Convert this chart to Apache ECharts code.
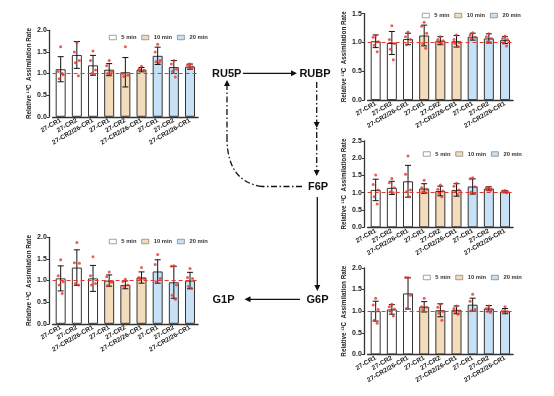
<!DOCTYPE html>
<html>
<head>
<meta charset="utf-8">
<script src="https://cdn.jsdelivr.net/npm/echarts@6/dist/echarts.min.js"></script>
<style>
  html, body { margin: 0; padding: 0; background: #fff; }
  #main { width: 554px; height: 396px; }
</style>
</head>
<body>
<div id="main"></div>
<script>
// categories and groups
const categories = ['27-CR1', '27-CR2', '27-CR2/26-CR1', '27-CR1', '27-CR2', '27-CR2/26-CR1', '27-CR1', '27-CR2', '27-CR2/26-CR1'];
const groups = ['5 min', '10 min', '20 min'];
const groupOf = [0, 0, 0, 1, 1, 1, 2, 2, 2];

// RU5P
const ru5pMean = [1.10, 1.43, 1.19, 1.09, 1.03, 1.09, 1.41, 1.15, 1.16];
const ru5pSd = [0.29, 0.31, 0.23, 0.14, 0.34, 0.05, 0.20, 0.15, 0.06];
const ru5pPoints = [
  [1.62, 1.05, 0.97, 0.88, 1.00], [1.72, 1.50, 1.30, 1.25, 0.95], [1.52, 1.30, 1.08, 1.00, 0.98],
  [1.30, 1.18, 1.05, 1.00, 0.97], [1.62, 1.00, 0.96, 0.93], [1.17, 1.10, 1.07, 1.08],
  [1.68, 1.50, 1.30, 1.27, 1.25], [1.30, 1.22, 1.10, 1.05, 0.92], [1.22, 1.20, 1.16, 1.14, 1.12]
];

// RUBP
const rubpMean = [1.02, 0.99, 1.06, 1.12, 1.03, 1.02, 1.10, 1.07, 1.04];
const rubpSd = [0.11, 0.20, 0.10, 0.18, 0.07, 0.10, 0.06, 0.08, 0.06];
const rubpPoints = [
  [1.12, 1.09, 1.01, 0.95, 0.84], [1.29, 1.05, 0.98, 0.88, 0.70], [1.18, 1.10, 1.05, 0.96],
  [1.35, 1.28, 1.16, 0.98, 0.90], [1.10, 1.05, 1.03, 1.00, 0.98], [1.13, 1.05, 1.00, 0.98, 0.93],
  [1.17, 1.13, 1.09, 1.07], [1.15, 1.10, 1.07, 1.01, 1.00], [1.11, 1.07, 1.05, 0.99, 0.94]
];

// F6P
const f6pMean = [1.08, 1.14, 1.33, 1.12, 1.05, 1.08, 1.18, 1.12, 1.03];
const f6pSd = [0.31, 0.19, 0.46, 0.14, 0.14, 0.18, 0.22, 0.05, 0.03];
const f6pPoints = [
  [1.51, 1.24, 1.08, 0.88, 0.67], [1.41, 1.29, 1.14, 1.03, 1.00], [2.06, 1.53, 1.08, 1.03, 0.88],
  [1.36, 1.14, 1.10, 1.03, 1.00], [1.22, 1.10, 1.05, 0.98, 0.88], [1.27, 1.19, 1.08, 1.03, 0.95],
  [1.43, 1.40, 1.17, 1.01, 0.98], [1.16, 1.14, 1.10, 1.08, 1.06], [1.06, 1.05, 1.03, 1.02, 1.00]
];

// G6P
const g6pMean = [1.00, 1.04, 1.41, 1.10, 1.02, 1.03, 1.15, 1.06, 1.00];
const g6pSd = [0.23, 0.11, 0.36, 0.12, 0.15, 0.09, 0.15, 0.07, 0.06];
const g6pPoints = [
  [1.30, 1.14, 1.04, 0.79, 0.72], [1.16, 1.10, 1.05, 1.00, 0.89], [1.78, 1.78, 1.37, 1.06],
  [1.30, 1.10, 1.09, 1.03], [1.16, 1.09, 1.00, 0.95, 0.79], [1.12, 1.06, 1.00, 0.99, 0.93],
  [1.39, 1.23, 1.04, 1.01], [1.12, 1.06, 1.03, 1.00, 0.97], [1.10, 1.01, 0.99, 0.97]
];

// G1P
const g1pMean = [1.05, 1.30, 1.05, 1.00, 0.90, 1.07, 1.21, 0.96, 1.00];
const g1pSd = [0.29, 0.41, 0.30, 0.13, 0.09, 0.13, 0.27, 0.37, 0.19];
const g1pPoints = [
  [1.48, 1.11, 0.97, 0.90, 0.70], [1.88, 1.41, 1.40, 0.93, 0.90], [1.55, 1.11, 0.93, 0.90],
  [1.20, 1.09, 0.96, 0.88], [1.03, 0.98, 0.90, 0.86], [1.30, 1.07, 1.05, 1.03],
  [1.60, 1.37, 1.05, 0.97], [1.34, 1.33, 0.90, 0.66, 0.57], [1.28, 1.07, 1.05, 0.86, 0.82]
];

const yTicks = [0, 0.5, 1.0, 1.5, 2.0, 2.5];

const fills = ['#ffffff', '#f3dcbc', '#c7e1f6'];
const jitter = [0, -2.5, 2.5, -1.5, 1.5];
const font = 'Arial, "Liberation Sans", sans-serif';

// panel layout
const panels = [
  { mean: ru5pMean, sd: ru5pSd, pts: ru5pPoints, max: 2.0, left: 52.6, top: 30.3, legend: [109, 34.5] },
  { mean: rubpMean, sd: rubpSd, pts: rubpPoints, max: 1.5, left: 367.6, top: 13.6, legend: [422, 12.5] },
  { mean: f6pMean, sd: f6pSd, pts: f6pPoints, max: 2.5, left: 367.6, top: 140.8, legend: [423, 151] },
  { mean: g6pMean, sd: g6pSd, pts: g6pPoints, max: 2.0, left: 367.6, top: 267.9, legend: [423, 274.5] },
  { mean: g1pMean, sd: g1pSd, pts: g1pPoints, max: 2.0, left: 52.6, top: 237.3, legend: [109, 238.5] }
];

const grid = [], xAxis = [], yAxis = [], series = [], legend = [];

function errorRender(params, api) {
  const x = api.value(0);
  const top = api.coord([x, api.value(2)]);
  const bot = api.coord([x, api.value(1)]);
  const w = 3;
  const st = { stroke: '#111', lineWidth: 1 };
  return {
    type: 'group',
    children: [
      { type: 'line', shape: { x1: top[0], y1: top[1], x2: bot[0], y2: bot[1] }, style: st },
      { type: 'line', shape: { x1: top[0] - w, y1: top[1], x2: top[0] + w, y2: top[1] }, style: st },
      { type: 'line', shape: { x1: bot[0] - w, y1: bot[1], x2: bot[0] + w, y2: bot[1] }, style: st }
    ]
  };
}

panels.forEach(function (p, k) {
  grid.push({ left: p.left, top: p.top, width: 145.5, height: 86.5 });
  xAxis.push({
    type: 'category', gridIndex: k, data: categories,
    axisLine: { lineStyle: { color: '#333', width: 1.3 } },
    axisTick: { show: false },
    axisLabel: { interval: 0, rotate: 30, margin: 3, fontSize: 6.5, fontWeight: 'bold', color: '#222', fontFamily: font }
  });
  yAxis.push({
    type: 'value', gridIndex: k, min: 0, max: p.max, interval: 0.5, offset: 3.3,
    name: 'Relative ¹³C  Assimilation Rate', nameLocation: 'middle', nameGap: 17,
    nameTextStyle: { fontSize: 6.3, fontWeight: 'bold', color: '#222', fontFamily: font },
    splitLine: { show: false },
    axisLine: { show: true, lineStyle: { color: '#333', width: 1.3 } },
    axisTick: { show: true, length: 2.5, lineStyle: { color: '#333', width: 1 } },
    axisLabel: {
      margin: 2.5, fontSize: 7, fontWeight: 'bold', color: '#222', fontFamily: font,
      formatter: function (v) { return yTicks.indexOf(v) >= 0 ? v.toFixed(1) : ''; }
    }
  });

  groups.forEach(function (g, gi) {
    const s = {
      name: g, type: 'bar', xAxisIndex: k, yAxisIndex: k, barWidth: 10, barGap: '-100%',
      itemStyle: { color: fills[gi], borderColor: '#333', borderWidth: 1 },
      data: p.mean.map(function (v, i) { return groupOf[i] === gi ? v : '-'; }),
      z: 2
    };
    if (gi === 0) {
      s.markLine = {
        silent: true, symbol: 'none', label: { show: false },
        lineStyle: { color: '#e2392f', type: [4, 3], width: 1 },
        data: [{ yAxis: 1 }]
      };
    }
    series.push(s);
  });

  series.push({
    type: 'custom', xAxisIndex: k, yAxisIndex: k, renderItem: errorRender, z: 4,
    data: p.mean.map(function (v, i) { return [i, v - p.sd[i], v + p.sd[i]]; })
  });

  const scatter = [];
  p.pts.forEach(function (arr, i) {
    arr.forEach(function (v, j) {
      scatter.push({ value: [i, v], symbolOffset: [jitter[j % jitter.length], 0] });
    });
  });
  series.push({
    type: 'scatter', xAxisIndex: k, yAxisIndex: k, symbolSize: 3, z: 5,
    itemStyle: { color: '#e8332a' }, data: scatter
  });

  legend.push({
    data: groups, left: p.legend[0], top: p.legend[1], orient: 'horizontal',
    itemWidth: 7, itemHeight: 4.5, itemGap: 5, padding: 0, icon: 'rect',
    itemStyle: { borderWidth: 0.6, borderColor: '#666' },
    textStyle: { fontSize: 5.8, fontWeight: 'bold', color: '#333', fontFamily: font },
    selectedMode: false
  });
});

// pathway diagram
const lab = { fontSize: 11, fontWeight: 'bold', fill: '#111', fontFamily: font, align: 'center', verticalAlign: 'middle' };
function txt(s, x, y) { return { type: 'text', x: x, y: y, style: Object.assign({ text: s }, lab) }; }
const solid = { stroke: '#111', lineWidth: 1.3 };
const dashDot = { stroke: '#111', lineWidth: 1.3, lineDash: [6, 2.5, 1.5, 2.5], fill: null };
function head(x, y, dir) {
  const L = 6, W = 3;
  let pts;
  if (dir === 'right') pts = [[x, y], [x - L, y - W], [x - L, y + W]];
  if (dir === 'left') pts = [[x, y], [x + L, y - W], [x + L, y + W]];
  if (dir === 'down') pts = [[x, y], [x - W, y - L], [x + W, y - L]];
  if (dir === 'up') pts = [[x, y], [x - W, y + L], [x + W, y + L]];
  return { type: 'polygon', shape: { points: pts }, style: { fill: '#111' } };
}

const graphic = [
  txt('RU5P', 226.7, 73.5),
  txt('RUBP', 315, 73.5),
  txt('F6P', 318, 186.5),
  txt('G6P', 317.5, 299.5),
  txt('G1P', 223.5, 299.5),
  { type: 'line', shape: { x1: 243, y1: 73.3, x2: 292, y2: 73.3 }, style: solid },
  head(297, 73.3, 'right'),
  { type: 'line', shape: { x1: 316.7, y1: 82, x2: 316.7, y2: 171 }, style: dashDot },
  head(316.7, 128, 'down'),
  head(316.7, 176, 'down'),
  { type: 'line', shape: { x1: 302, y1: 186.5, x2: 262, y2: 186.5 }, style: dashDot },
  { type: 'bezierCurve', shape: { x1: 262, y1: 186.5, x2: 227, y2: 140, cpx1: 228, cpy1: 182 }, style: dashDot },
  { type: 'line', shape: { x1: 227, y1: 140, x2: 227, y2: 86 }, style: dashDot },
  head(227, 80, 'up'),
  { type: 'line', shape: { x1: 317.3, y1: 197, x2: 317.3, y2: 285 }, style: solid },
  head(317.3, 291, 'down'),
  { type: 'line', shape: { x1: 300, y1: 299.3, x2: 250, y2: 299.3 }, style: solid },
  head(244.5, 299.3, 'left')
];

const chart = echarts.init(document.getElementById('main'), null, { renderer: 'canvas' });
chart.setOption({
  animation: false,
  backgroundColor: '#fff',
  grid: grid, xAxis: xAxis, yAxis: yAxis, legend: legend,
  series: series, graphic: graphic
});
</script>
</body>
</html>
